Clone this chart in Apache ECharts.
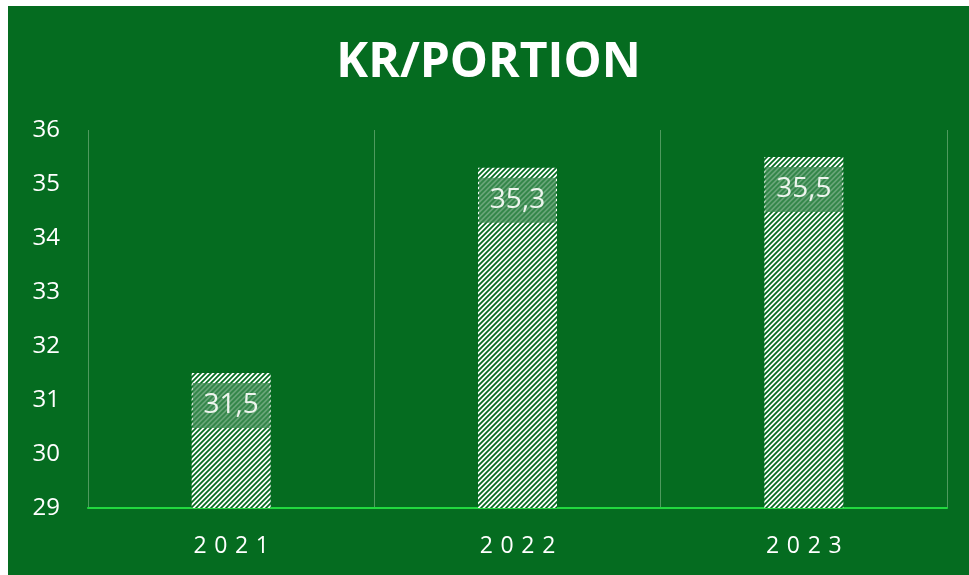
<!DOCTYPE html>
<html>
<head>
<meta charset="utf-8">
<script src="https://cdn.jsdelivr.net/npm/echarts@6/dist/echarts.min.js"></script>
<style>
  html, body { margin: 0; padding: 0; background: #fff; }
  #chart { position: absolute; left: 8px; top: 6px; width: 961px; height: 569px; }
</style>
</head>
<body>
<div id="chart"></div>
<script>
  // chart data
  var years = ['2021', '2022', '2023']
  var prices = [31.5, 35.3, 35.5]
  var yMin = 29
  var yMax = 36

  // diagonal hatch used to fill the bars
  function hatch() {
    var s = 5
    var c = document.createElement('canvas')
    c.width = s
    c.height = s
    var ctx = c.getContext('2d')
    ctx.fillStyle = '#ffffff'
    ctx.fillRect(0, 0, s, s)
    ctx.strokeStyle = '#056c20'
    ctx.lineWidth = 1.8
    ctx.beginPath()
    ctx.moveTo(0, s); ctx.lineTo(s, 0)
    ctx.moveTo(-2, 2); ctx.lineTo(2, -2)
    ctx.moveTo(s - 2, s + 2); ctx.lineTo(s + 2, s - 2)
    ctx.stroke()
    return c
  }

  var chart = echarts.init(document.getElementById('chart'))
  chart.setOption({
    backgroundColor: '#056c20',
    animation: false,
    title: {
      text: 'KR/PORTION',
      left: 'center',
      top: 28,
      textStyle: {
        color: '#ffffff',
        fontFamily: 'Open Sans',
        fontWeight: 'bold',
        fontSize: 48
      }
    },
    grid: {
      left: 80,
      right: 22,
      top: 124,
      bottom: 67
    },
    xAxis: {
      type: 'category',
      data: years,
      axisLine: { lineStyle: { color: '#22d83f', width: 2 } },
      axisTick: { show: false },
      splitLine: { show: true, lineStyle: { color: '#4f9a5e', width: 1 } },
      axisLabel: {
        color: '#ffffff',
        fontFamily: 'Open Sans',
        fontSize: 23,
        margin: 27,
        formatter: function (v) { return v.split('').join('\u2004') }
      }
    },
    yAxis: {
      type: 'value',
      min: yMin,
      max: yMax,
      interval: 1,
      axisLine: { show: false },
      axisTick: { show: false },
      splitLine: { show: false },
      axisLabel: {
        color: '#ffffff',
        fontFamily: 'Open Sans',
        fontSize: 24,
        margin: 28
      }
    },
    series: [{
      type: 'bar',
      data: prices,
      barWidth: 79,
      itemStyle: {
        color: { image: hatch(), repeat: 'repeat' }
      },
      label: {
        show: true,
        position: 'insideTop',
        distance: 10,
        formatter: function (p) { return String(p.value).replace('.', ',') },
        color: '#eef5ee',
        fontFamily: 'Open Sans',
        fontSize: 28,
        lineHeight: 31,
        width: 77,
        align: 'center',
        padding: [7, 0, 7, 0],
        backgroundColor: 'rgba(62,140,82,0.78)'
      }
    }]
  })
</script>
</body>
</html>
